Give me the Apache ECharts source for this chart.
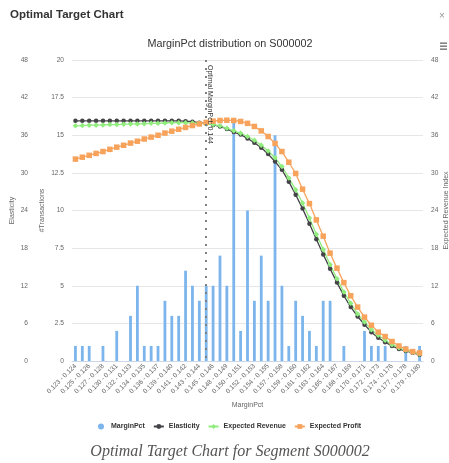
<!DOCTYPE html>
<html><head><meta charset="utf-8">
<script src="https://cdn.jsdelivr.net/npm/echarts@6/dist/echarts.min.js"></script>
<style>html,body{margin:0;padding:0;background:#fff}#c{width:449px;height:463px}</style>
</head><body><div id="c"></div>
<script>
const categories = [
 '0.123 - 0.124','0.124 - 0.125','0.125 - 0.126','0.126 - 0.127','0.127 - 0.128','0.128 - 0.129',
 '0.130 - 0.131','0.131 - 0.132','0.132 - 0.133','0.133 - 0.134','0.134 - 0.135','0.135 - 0.136',
 '0.136 - 0.137','0.137 - 0.139','0.139 - 0.140','0.140 - 0.141','0.141 - 0.142','0.142 - 0.143',
 '0.143 - 0.144','0.144 - 0.145','0.145 - 0.146','0.146 - 0.148','0.148 - 0.149','0.149 - 0.150',
 '0.150 - 0.151','0.151 - 0.152','0.152 - 0.153','0.153 - 0.154','0.154 - 0.155','0.155 - 0.157',
 '0.157 - 0.158','0.158 - 0.159','0.159 - 0.160','0.160 - 0.161','0.161 - 0.162','0.162 - 0.163',
 '0.163 - 0.164','0.164 - 0.165','0.165 - 0.167','0.167 - 0.168','0.168 - 0.169','0.169 - 0.170',
 '0.170 - 0.171','0.171 - 0.172','0.172 - 0.173','0.173 - 0.174','0.174 - 0.176','0.176 - 0.177',
 '0.177 - 0.178','0.178 - 0.179','0.179 - 0.180'];
const transactions = [1,1,1,0,1,0,2,0,3,5,1,1,1,4,3,3,6,5,4,5,5,7,5,16,2,10,4,7,4,15,5,1,4,3,2,1,4,4,0,1,0,0,2,1,1,1,0,0,1,0,1];
const elasticity = [38.3,38.3,38.3,38.3,38.3,38.3,38.3,38.3,38.3,38.3,38.3,38.3,38.3,38.3,38.3,38.3,
 38.25,38.15,38.0,37.85,37.65,37.4,37.0,36.5,36.1,35.5,34.8,34.0,33.0,31.8,30.5,28.6,26.5,24.3,21.9,19.4,
 17.0,14.7,12.5,10.4,8.6,7.1,5.8,4.6,3.7,3.0,2.4,1.9,1.6,1.3,1.0];
const expectedRevenue = [37.5,37.55,37.6,37.6,37.65,37.7,37.7,37.75,37.8,37.8,37.85,37.9,37.9,37.95,38.0,38.0,
 38.0,37.95,37.9,37.8,37.7,37.5,37.1,36.7,36.3,35.8,35.2,34.4,33.5,32.4,31.0,29.2,27.3,25.2,22.8,20.2,
 17.8,15.4,13.1,11.0,9.2,7.5,6.2,5.0,4.1,3.3,2.6,2.1,1.7,1.4,1.1];
const expectedProfit = [32.2,32.5,32.8,33.1,33.4,33.75,34.1,34.4,34.75,35.05,35.4,35.7,36.0,36.35,36.65,36.95,
 37.25,37.55,37.8,38.05,38.25,38.35,38.4,38.35,38.2,37.9,37.4,36.7,35.8,34.7,33.4,31.7,29.9,27.4,25.1,22.5,
 19.9,17.2,14.8,12.5,10.4,8.6,7.0,5.7,4.6,3.9,3.1,2.4,1.9,1.5,1.3];
const optimalCategory = '0.144 - 0.145';
const optimalLabel = 'Optimal MarginPct: 0.144';
const indexAxisRange = [0, 48, 6];
const countAxisRange = [0, 20, 2.5];

const FONT = '"Liberation Sans", Arial, sans-serif';
const lbl = {color:'#666', fontSize:6.6, fontFamily:FONT};
const nm = {color:'#666', fontSize:7, fontFamily:FONT};
const chart = echarts.init(document.getElementById('c'), null, {renderer:'canvas'});
chart.setOption({
  animation:false,
  textStyle:{fontFamily:FONT},
  graphic:[
    {type:'text', left:10, top:9, style:{text:'Optimal Target Chart', font:'bold 11.5px '+FONT, fill:'#333'}},
    {type:'text', left:439, top:11, style:{text:'×', font:'10px '+FONT, fill:'#999'}},
    {type:'rect', shape:{x:440, y:42.5, width:7, height:1.3}, style:{fill:'#666'}},
    {type:'rect', shape:{x:440, y:45.5, width:7, height:1.3}, style:{fill:'#666'}},
    {type:'rect', shape:{x:440, y:48.5, width:7, height:1.3}, style:{fill:'#666'}},
    {type:'text', x:230, y:38.5, style:{text:'MarginPct distribution on S000002', font:'10.8px '+FONT, fill:'#333', textAlign:'center'}},
    {type:'text', x:230, y:452, style:{text:'Optimal Target Chart for Segment S000002', font:'italic 16px "Liberation Serif", "Times New Roman", serif', fill:'#555', textAlign:'center', textVerticalAlign:'middle'}}
  ],
  grid:{left:72, right:26, top:60, bottom:102, outerBoundsMode:'none', containLabel:false},
  legend:{
    left:93, top:418, itemWidth:10, itemHeight:6, itemGap:8,
    textStyle:{color:'#333', fontSize:7, fontWeight:'bold', fontFamily:FONT},
    data:[{name:'MarginPct', icon:'circle'}, 'Elasticity', 'Expected Revenue', 'Expected Profit']
  },
  xAxis:{
    type:'category', data:categories, boundaryGap:true,
    name:'MarginPct', nameLocation:'middle', nameGap:41, nameTextStyle:nm, nameMoveOverlap:false,
    axisLine:{lineStyle:{color:'#ccd6eb'}}, axisTick:{show:false},
    axisLabel:Object.assign({interval:1, rotate:45, margin:4}, lbl)
  },
  yAxis:[
    {type:'value', position:'left', offset:36, min:indexAxisRange[0], max:indexAxisRange[1], interval:indexAxisRange[2],
     name:'Elasticity', nameLocation:'middle', nameGap:20, nameTextStyle:nm, nameMoveOverlap:false,
     axisLine:{show:false}, axisTick:{show:false}, axisLabel:lbl,
     splitLine:{lineStyle:{color:'#e6e6e6'}}},
    {type:'value', position:'left', min:countAxisRange[0], max:countAxisRange[1], interval:countAxisRange[2],
     name:'#Transactions', nameLocation:'middle', nameGap:26, nameTextStyle:nm, nameMoveOverlap:false,
     axisLine:{show:false}, axisTick:{show:false}, axisLabel:lbl, splitLine:{show:false}},
    {type:'value', position:'right', min:indexAxisRange[0], max:indexAxisRange[1], interval:indexAxisRange[2],
     name:'Expected Revenue Index', nameLocation:'middle', nameGap:20, nameTextStyle:nm, nameMoveOverlap:false,
     axisLine:{show:false}, axisTick:{show:false}, axisLabel:lbl, splitLine:{show:false}}
  ],
  series:[
    {name:'MarginPct', type:'bar', yAxisIndex:1, data:transactions, barWidth:2.8,
     itemStyle:{color:'#7cb5ec'},
     markLine:{
       silent:true, symbol:['none','none'],
       lineStyle:{color:'#808080', width:2, type:[2,6]},
       label:{show:true, position:'insideStartTop', distance:[5,0], formatter:optimalLabel,
              color:'#333', fontSize:7, fontFamily:FONT},
       data:[[{coord:[optimalCategory, countAxisRange[1]]}, {coord:[optimalCategory, countAxisRange[0]]}]]
     }},
    {name:'Elasticity', type:'line', yAxisIndex:0, data:elasticity, symbol:'circle', symbolSize:4.5, showAllSymbol:true,
     itemStyle:{color:'#434348'}, lineStyle:{color:'#434348', width:1.3}},
    {name:'Expected Revenue', type:'line', yAxisIndex:2, data:expectedRevenue, symbol:'diamond', symbolSize:5.5, showAllSymbol:true,
     itemStyle:{color:'#90ed7d'}, lineStyle:{color:'#90ed7d', width:1.3}},
    {name:'Expected Profit', type:'line', yAxisIndex:2, data:expectedProfit, symbol:'rect', symbolSize:5.5, showAllSymbol:true,
     itemStyle:{color:'#f7a35c'}, lineStyle:{color:'#f7a35c', width:1.3}}
  ]
});
</script></body></html>
